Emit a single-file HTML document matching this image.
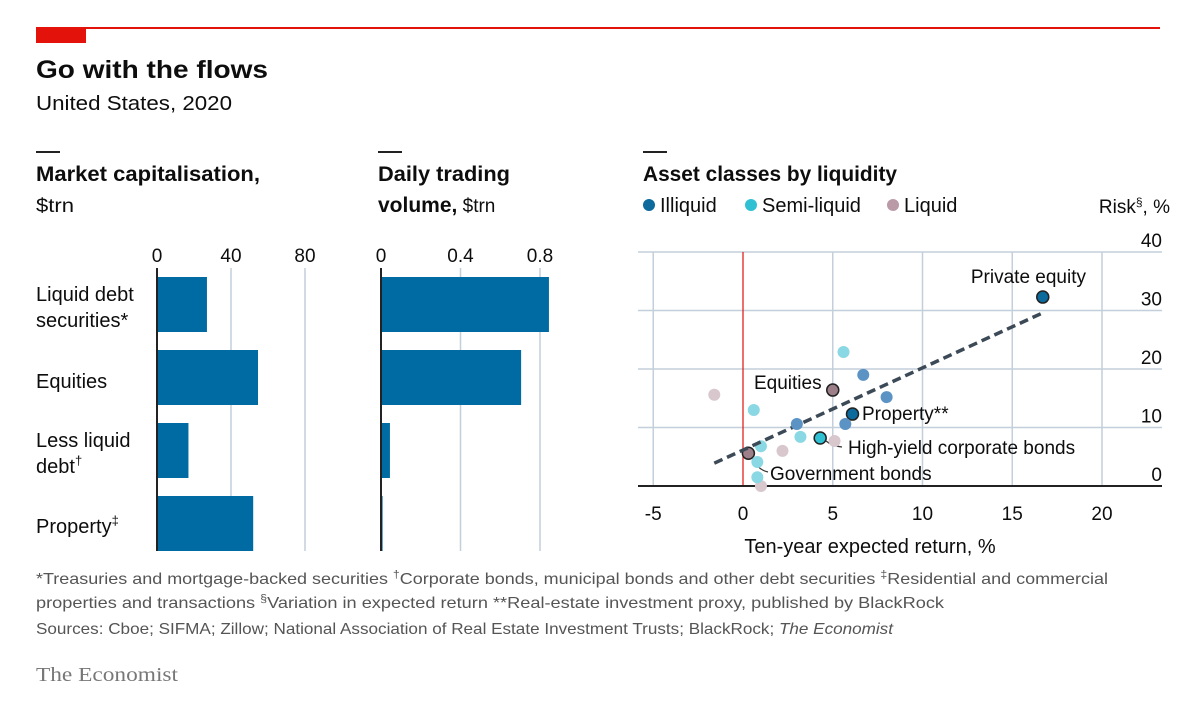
<!DOCTYPE html>
<html><head><meta charset="utf-8"><style>
html,body{margin:0;padding:0;background:#fff;}
svg{display:block;font-family:"Liberation Sans",sans-serif;}
</style></head><body>
<svg id="chart" width="1200" height="708" viewBox="0 0 1200 708">
<rect x="36" y="27" width="1124" height="2" fill="#e3120b"/>
<rect x="36" y="27" width="50" height="16" fill="#e3120b"/>
<text x="36" y="78" font-size="25" font-weight="bold" fill="#0d0d0d" textLength="232" lengthAdjust="spacingAndGlyphs">Go with the flows</text>
<text x="36" y="110" font-size="20" fill="#0d0d0d" textLength="196" lengthAdjust="spacingAndGlyphs">United States, 2020</text>

<rect x="36" y="151" width="24" height="2" fill="#222"/>
<rect x="378" y="151" width="24" height="2" fill="#222"/>
<rect x="643" y="151" width="24" height="2" fill="#222"/>
<text x="36" y="181" font-size="21" font-weight="bold" fill="#0d0d0d" textLength="224" lengthAdjust="spacingAndGlyphs">Market capitalisation,</text>
<text x="36" y="212" font-size="19" fill="#0d0d0d" textLength="38" lengthAdjust="spacingAndGlyphs">$trn</text>
<text x="378" y="181" font-size="21" font-weight="bold" fill="#0d0d0d" textLength="132" lengthAdjust="spacingAndGlyphs">Daily trading</text>
<text x="378" y="212" font-size="21" fill="#0d0d0d"><tspan font-weight="bold">volume,</tspan><tspan font-size="19"> $trn</tspan></text>
<text x="643" y="181" font-size="21" font-weight="bold" fill="#0d0d0d" textLength="254" lengthAdjust="spacingAndGlyphs">Asset classes by liquidity</text>
<g id="legend"></g>
<text x="1170" y="213" font-size="19" fill="#0d0d0d" text-anchor="end">Risk<tspan font-size="12" dy="-7">§</tspan><tspan dy="7">, %</tspan></text>

<g id="cats" font-size="20" fill="#0d0d0d">
<text x="36" y="301">Liquid debt</text>
<text x="36" y="327">securities*</text>
<text x="36" y="388">Equities</text>
<text x="36" y="447">Less liquid</text>
<text x="36" y="473">debt<tspan font-size="13" dy="-8">†</tspan></text>
<text x="36" y="533">Property<tspan font-size="13" dy="-8">‡</tspan></text>
</g>
<g id="bars1"></g>
<g id="bars2"></g>
<g id="scatter"></g>

<g font-size="16" fill="#555">
<text x="36" y="584" textLength="1072" lengthAdjust="spacingAndGlyphs">*Treasuries and mortgage-backed securities   <tspan font-size="11" dy="-6">†</tspan><tspan dy="6">Corporate bonds, municipal bonds and other debt securities   </tspan><tspan font-size="11" dy="-6">‡</tspan><tspan dy="6">Residential and commercial</tspan></text>
<text x="36" y="608" textLength="908" lengthAdjust="spacingAndGlyphs">properties and transactions   <tspan font-size="11" dy="-6">§</tspan><tspan dy="6">Variation in expected return   **Real-estate investment proxy, published by BlackRock</tspan></text>
<text x="36" y="634" textLength="857" lengthAdjust="spacingAndGlyphs">Sources: Cboe; SIFMA; Zillow; National Association of Real Estate Investment Trusts; BlackRock; <tspan font-style="italic">The Economist</tspan></text>
</g>
<text x="36" y="681" font-family="Liberation Serif, serif" font-size="20" fill="#777" textLength="142" lengthAdjust="spacingAndGlyphs">The Economist</text>
</svg>
<script>
const NS='http://www.w3.org/2000/svg';
const categories=['Liquid debt securities','Equities','Less liquid debt','Property'];
const marketCap=[27,54.6,17,52];
const capTicks=[0,40,80];
const tradingVolume=[0.845,0.705,0.045,0.008];
const volTicks=[0,0.4,0.8];
const illiquidX=[16.7,6.1,6.7,8.0,3.0,5.7];
const illiquidY=[32.3,12.3,19,15.2,10.6,10.6];
const semiX=[4.3,5.6,0.6,3.2,1.0,0.8,0.8];
const semiY=[8.2,22.9,13,8.4,6.8,4.1,1.5];
const liquidX=[5.0,0.3,-1.6,2.2,5.1,1.0];
const liquidY=[16.4,5.6,15.6,6.0,7.7,0];
const trendX=[-1.6,16.7];
const trendY=[3.9,29.6];
const xTicks=[-5,0,5,10,15,20];
const yTicks=[0,10,20,30,40];

function mk(tag,attrs,parent){const e=document.createElementNS(NS,tag);for(const k in attrs)e.setAttribute(k,attrs[k]);parent.appendChild(e);return e;}

function barPanel(g,vals,ticks,x0,pxPer,tickFmt,name){
  const sx=v=>x0+v*pxPer;
  ticks.forEach(t=>{
    const l=mk('line',{x1:sx(t),x2:sx(t),y1:268,y2:551,stroke:'#c3cfdb','stroke-width':1.5},g);
    
    
    const tx=mk('text',{x:sx(t),y:262,'font-size':19,'text-anchor':'middle',fill:'#0d0d0d'},g);
    tx.textContent=tickFmt(t);
    
    
  });
  vals.forEach((v,i)=>{
    const r=mk('rect',{x:sx(0),y:277+i*73,width:Math.max(0,sx(v)-sx(0)),height:55,fill:'#006ba2'},g);
    
    
  });
  const ax=mk('line',{x1:sx(0),x2:sx(0),y1:268,y2:551,stroke:'#222','stroke-width':2},g);
  
  
}
barPanel(document.getElementById('bars1'),marketCap,capTicks,157,1.85,t=>String(t),'market-cap');
barPanel(document.getElementById('bars2'),tradingVolume,volTicks,381,198.75,t=>String(t),'volume');

// legend
const lg=document.getElementById('legend');
[['Illiquid','#0c6a9c',643],['Semi-liquid','#2fc1d3',745],['Liquid','#b99aa6',887]].forEach(([t,c,x])=>{
  const d=mk('circle',{cx:x+6,cy:205,r:6,fill:c},lg);
  
  
  const tx=mk('text',{x:x+17,y:212,'font-size':20,fill:'#0d0d0d'},lg);
  tx.textContent=t;
  
  
});

// scatter
const sg=document.getElementById('scatter');
const X=v=>743+v*17.95, Y=v=>486-v*5.85;
yTicks.forEach(t=>{
  const l=mk('line',{x1:638,x2:1162,y1:Y(t),y2:Y(t),stroke:'#c3cfdb','stroke-width':1.5},sg);
  
  
  const tx=mk('text',{x:1162,y:Y(t)-5,'font-size':19,'text-anchor':'end',fill:'#0d0d0d'},sg);
  tx.textContent=t;
  
  
});
xTicks.forEach(t=>{
  if(t!==0){const l=mk('line',{x1:X(t),x2:X(t),y1:Y(40),y2:Y(0),stroke:'#c3cfdb','stroke-width':1.5},sg);
  
  }
  const tx=mk('text',{x:X(t),y:520,'font-size':19,'text-anchor':'middle',fill:'#0d0d0d'},sg);
  tx.textContent=t;
  
  
});
const zl=mk('line',{x1:X(0),x2:X(0),y1:Y(40),y2:Y(0),stroke:'#e3120b','stroke-width':1.2},sg);


const xa=mk('line',{x1:638,x2:1162,y1:Y(0),y2:Y(0),stroke:'#222','stroke-width':2},sg);


const xt=mk('text',{x:870,y:553,'font-size':20,'text-anchor':'middle',fill:'#0d0d0d'},sg);
xt.textContent='Ten-year expected return, %';



// leader lines
[[4.3,8.2,'M 826 441 Q 832 446 842 447'],[0.3,5.6,'M 752 458 Q 758 470 768 472'],[5.0,7.7,'']].forEach(p=>{
  if(p[2]){const pa=mk('path',{d:p[2],fill:'none',stroke:'#333','stroke-width':1.2},sg);
  
  }
});

function dots(xs,ys,colors,name,hl){
  xs.forEach((x,i)=>{
    const h=hl.includes(i);
    const c=mk('circle',{cx:X(x),cy:Y(ys[i]),r:h?6:6,fill:colors(i),stroke:h?'#222':'none','stroke-width':h?1.5:0},sg);
    
    
  });
}
dots(liquidX,liquidY,i=>i<2?'#9c7f89':'#d8c7cd','liquid',[0,1]);
dots(semiX,semiY,i=>i===0?'#2fc1d3':'#8ad8e3','semi-liquid',[0]);
const tl=mk('line',{x1:X(trendX[0]),y1:Y(trendY[0]),x2:X(trendX[1]),y2:Y(trendY[1]),stroke:'#3c4a57','stroke-width':3.5,'stroke-dasharray':'9 5'},sg);


dots(illiquidX,illiquidY,i=>i<2?'#0c6a9c':'#5b93c4','illiquid',[0,1]);

[['Private equity',1086,283,'end'],['Equities',754,389,'start'],['Property**',862,420,'start'],['High-yield corporate bonds',848,454,'start'],['Government bonds',770,480,'start']].forEach(([t,x,y,a])=>{
  const tx=mk('text',{x:x,y:y,'font-size':19,'text-anchor':a,fill:'#0d0d0d'},sg);
  tx.textContent=t;
  
  
});
</script>
</body></html>
